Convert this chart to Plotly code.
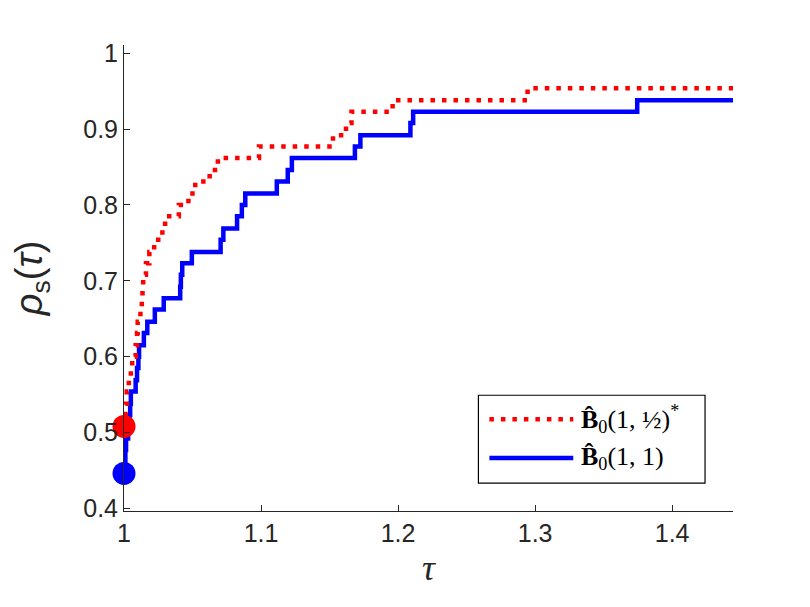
import plotly.graph_objects as go

# performance profile data
tau_red = [1.0, 1.0005, 1.001, 1.002, 1.0035, 1.005, 1.006, 1.0085, 1.0095, 1.010,
           1.012, 1.013, 1.0135, 1.014, 1.016, 1.0185, 1.022, 1.028, 1.030, 1.040,
           1.047, 1.052, 1.0625, 1.0685, 1.0985, 1.1525, 1.162, 1.166, 1.196, 1.2945,
           1.4444]
rho_red = [0.508, 0.523, 0.538, 0.554, 0.569, 0.585, 0.600, 0.615, 0.631, 0.646,
           0.662, 0.677, 0.692, 0.708, 0.723, 0.738, 0.754, 0.769, 0.785, 0.800,
           0.815, 0.831, 0.846, 0.862, 0.877, 0.892, 0.908, 0.923, 0.938, 0.954,
           0.954]

tau_blue = [1.0, 1.0005, 1.001, 1.0015, 1.003, 1.004, 1.0045, 1.005, 1.0085, 1.0095,
            1.0105, 1.011, 1.0145, 1.017, 1.0225, 1.029, 1.041, 1.0415, 1.0425, 1.0495,
            1.0705, 1.0725, 1.0825, 1.086, 1.0885, 1.1115, 1.1195, 1.1225, 1.1685, 1.1725,
            1.209, 1.211, 1.3745, 1.4444]
rho_blue = [0.446, 0.462, 0.477, 0.492, 0.508, 0.523, 0.538, 0.554, 0.569, 0.585,
            0.600, 0.615, 0.631, 0.646, 0.662, 0.677, 0.692, 0.708, 0.723, 0.738,
            0.754, 0.769, 0.785, 0.800, 0.815, 0.831, 0.846, 0.862, 0.877, 0.892,
            0.908, 0.923, 0.938, 0.938]

x_ticks = [1, 1.1, 1.2, 1.3, 1.4]
x_labels = ["1", "1.1", "1.2", "1.3", "1.4"]
y_ticks = [0.4, 0.5, 0.6, 0.7, 0.8, 0.9, 1.0]
y_labels = ["0.4", "0.5", "0.6", "0.7", "0.8", "0.9", "1"]

names = ["<b>B̂</b><sub>0</sub>(1, ½)<sup>*</sup>", "<b>B̂</b><sub>0</sub>(1, 1)"]

axis_col = "#262626"

fig = go.Figure()
fig.add_trace(go.Scatter(x=tau_blue, y=rho_blue, mode="lines", line_shape="hv",
                         line=dict(color="#0000ff", width=4.5), cliponaxis=False))
fig.add_trace(go.Scatter(x=tau_red, y=rho_red, mode="lines", line_shape="hv",
                         line=dict(color="#ff0000", width=4.5, dash="4.5px,7px"),
                         cliponaxis=False))
fig.add_trace(go.Scatter(x=tau_blue[:1], y=rho_blue[:1], mode="markers",
                         marker=dict(color="#0000ff", size=23), cliponaxis=False))
fig.add_trace(go.Scatter(x=tau_red[:1], y=rho_red[:1], mode="markers",
                         marker=dict(color="#ff0000", size=23), cliponaxis=False))

# hand-made legend box, like the matlab one (screen pixels -> paper)
def px(xp, yp):
    return (xp - 123) / 610, (511 - yp) / 467

x0, y0 = px(478, 395)
x1, y1 = px(705, 483)
shapes = [dict(type="rect", xref="paper", yref="paper", x0=x0, x1=x1, y0=y1, y1=y0,
               line=dict(color="black", width=1.2), fillcolor="white", layer="above")]
annos = []
for i, (col, dash, yp) in enumerate([("#ff0000", "4.5px,7px", 419), ("#0000ff", "solid", 458)]):
    a0, ay = px(489, yp)
    a1, _ = px(573, yp)
    shapes.append(dict(type="line", xref="paper", yref="paper", x0=a0, x1=a1, y0=ay, y1=ay,
                       line=dict(color=col, width=4.5, dash=dash), layer="above"))
    tx, _ = px(579, yp)
    annos.append(dict(xref="paper", yref="paper", x=tx, y=ay, xanchor="left", yanchor="middle",
                      text=names[i], showarrow=False,
                      font=dict(family="Liberation Serif", size=26, color="black")))

fig.update_layout(
    width=810, height=607,
    margin=dict(l=116, r=85, t=37, b=104),
    plot_bgcolor="white", paper_bgcolor="white",
    showlegend=False,
    shapes=shapes, annotations=annos,
    font=dict(family="Liberation Sans", color=axis_col),
)
fig.update_xaxes(range=[1, 1.4444], tickvals=x_ticks, ticktext=x_labels,
                 ticks="inside", ticklen=6, tickcolor=axis_col, showgrid=False, zeroline=False,
                 showline=True, linecolor=axis_col, linewidth=1,
                 tickfont=dict(size=25, color=axis_col),
                 title=dict(text="<i>τ</i>", font=dict(family="Liberation Serif", size=36), standoff=8))
fig.update_yaxes(range=[0.3964, 1.011], tickvals=y_ticks, ticktext=y_labels,
                 ticks="inside", ticklen=6, tickcolor=axis_col, showgrid=False, zeroline=False,
                 showline=True, linecolor=axis_col, linewidth=1,
                 tickfont=dict(size=25, color=axis_col),
                 title=dict(text="<i>ρ</i><sub>s</sub>(<i>τ</i>)",
                            font=dict(family="Liberation Sans", size=38), standoff=36))

fig.write_html("out.html")
